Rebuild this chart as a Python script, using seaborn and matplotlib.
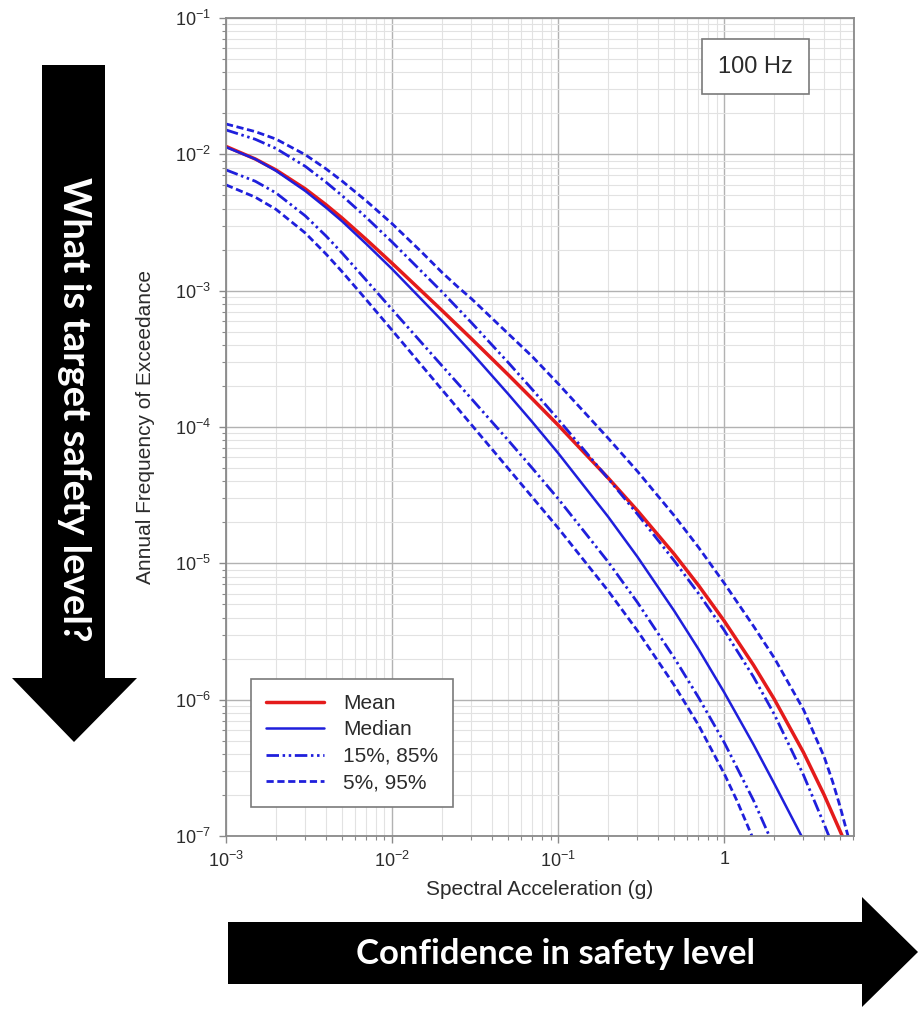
import numpy as np
import pandas as pd
import matplotlib
matplotlib.use("Agg")
import matplotlib.pyplot as plt
import seaborn as sns
from matplotlib.patches import Polygon
from matplotlib.ticker import FixedLocator, FixedFormatter, LogLocator, NullFormatter

# ---- hazard curves at 100 Hz: spectral acceleration (g) vs annual frequency of exceedance ----
mean_sa = [0.001, 0.0015, 0.002, 0.003, 0.004, 0.005, 0.007, 0.01, 0.02, 0.03, 0.05, 0.07, 0.1, 0.2,
           0.3, 0.5, 0.7, 1.0, 1.5, 2.0, 3.0, 4.0, 5.0, 5.14]
mean_afe = [1.143e-2, 9.25e-3, 7.68e-3, 5.58e-3, 4.27e-3, 3.41e-3, 2.37e-3, 1.589e-3, 7.15e-4, 4.45e-4,
            2.42e-4, 1.605e-4, 1.033e-4, 4.23e-5, 2.44e-5, 1.169e-5, 6.90e-6, 3.78e-6, 1.797e-6,
            1.011e-6, 4.11e-7, 2.00e-7, 1.08e-7, 1.0e-7]

median_sa = [0.001, 0.0015, 0.002, 0.003, 0.004, 0.005, 0.007, 0.01, 0.02, 0.03, 0.05, 0.07, 0.1, 0.2,
             0.3, 0.5, 0.7, 1.0, 1.5, 2.0, 2.92]
median_afe = [1.13e-2, 9.23e-3, 7.57e-3, 5.39e-3, 4.07e-3, 3.23e-3, 2.20e-3, 1.442e-3, 6.03e-4, 3.53e-4,
              1.748e-4, 1.085e-4, 6.44e-5, 2.197e-5, 1.118e-5, 4.48e-6, 2.35e-6, 1.132e-6, 4.70e-7,
              2.43e-7, 1.0e-7]

p15_sa = [0.001, 0.0015, 0.002, 0.003, 0.004, 0.005, 0.007, 0.01, 0.02, 0.03, 0.05, 0.07, 0.1, 0.2,
          0.3, 0.5, 0.7, 1.0, 1.5, 1.87]
p15_afe = [7.69e-3, 6.35e-3, 5.21e-3, 3.54e-3, 2.52e-3, 1.889e-3, 1.191e-3, 7.28e-4, 2.81e-4, 1.616e-4,
           8.0e-5, 4.98e-5, 2.98e-5, 1.026e-5, 5.18e-6, 2.03e-6, 1.04e-6, 4.86e-7, 1.83e-7, 1.0e-7]

p85_sa = [0.001, 0.0015, 0.002, 0.003, 0.004, 0.005, 0.007, 0.01, 0.02, 0.03, 0.05, 0.07, 0.1, 0.2,
          0.3, 0.5, 0.7, 1.0, 1.5, 2.0, 3.0, 4.0, 4.27]
p85_afe = [1.51e-2, 1.29e-2, 1.104e-2, 8.17e-3, 6.25e-3, 4.98e-3, 3.44e-3, 2.275e-3, 9.79e-4, 5.84e-4,
           2.975e-4, 1.88e-4, 1.14e-4, 4.19e-5, 2.30e-5, 1.045e-5, 6.02e-6, 3.23e-6, 1.472e-6,
           7.84e-7, 2.81e-7, 1.22e-7, 1.0e-7]

p05_sa = [0.001, 0.0015, 0.002, 0.003, 0.004, 0.005, 0.007, 0.01, 0.02, 0.03, 0.05, 0.07, 0.1, 0.2,
          0.3, 0.5, 0.7, 1.0, 1.2, 1.47]
p05_afe = [5.97e-3, 4.85e-3, 3.95e-3, 2.65e-3, 1.858e-3, 1.379e-3, 8.57e-4, 5.13e-4, 1.876e-4, 1.042e-4,
           4.97e-5, 3.05e-5, 1.818e-5, 6.29e-6, 3.21e-6, 1.279e-6, 6.52e-7, 2.87e-7, 1.79e-7, 1.0e-7]

p95_sa = [0.001, 0.0015, 0.002, 0.003, 0.004, 0.005, 0.007, 0.01, 0.015, 0.02, 0.025, 0.03, 0.05, 0.07,
          0.1, 0.2, 0.3, 0.5, 0.7, 1.0, 1.5, 2.0, 3.0, 4.0, 4.5, 5.0, 5.57]
p95_afe = [1.67e-2, 1.468e-2, 1.294e-2, 9.94e-3, 7.83e-3, 6.37e-3, 4.55e-3, 3.10e-3, 1.93e-3, 1.36e-3,
           1.06e-3, 8.75e-4, 4.84e-4, 3.28e-4, 2.08e-4, 8.28e-5, 4.74e-5, 2.24e-5, 1.312e-5, 7.16e-6,
           3.47e-6, 2.03e-6, 8.48e-7, 3.81e-7, 2.50e-7, 1.63e-7, 1.0e-7]

band_labels = ["Mean", "Median", "15%, 85%", "5%, 95%"]
x_tick_values = [1e-3, 1e-2, 1e-1, 1.0]
x_tick_labels = [r"$\mathregular{10^{-3}}$", r"$\mathregular{10^{-2}}$", r"$\mathregular{10^{-1}}$", "1"]
y_tick_values = [1e-7, 1e-6, 1e-5, 1e-4, 1e-3, 1e-2, 1e-1]
y_tick_labels = [r"$\mathregular{10^{-7}}$", r"$\mathregular{10^{-6}}$", r"$\mathregular{10^{-5}}$",
                 r"$\mathregular{10^{-4}}$", r"$\mathregular{10^{-3}}$", r"$\mathregular{10^{-2}}$",
                 r"$\mathregular{10^{-1}}$"]
frequency_label = "100 Hz"

curves = [
    ("mean", "Mean", mean_sa, mean_afe),
    ("median", "Median", median_sa, median_afe),
    ("p15", "15%, 85%", p15_sa, p15_afe),
    ("p85", "15%, 85%", p85_sa, p85_afe),
    ("p05", "5%, 95%", p05_sa, p05_afe),
    ("p95", "5%, 95%", p95_sa, p95_afe),
]
df = pd.concat(
    [pd.DataFrame({"curve": cid, "band": band, "sa": sa, "afe": afe}) for cid, band, sa, afe in curves],
    ignore_index=True,
)

# ---- styling ----
sns.set_theme(style="white")
plt.rcParams["font.family"] = ["Liberation Sans", "DejaVu Sans"]
plt.rcParams["mathtext.fontset"] = "custom"
plt.rcParams["mathtext.rm"] = "Liberation Sans"
plt.rcParams["mathtext.it"] = "Liberation Sans:italic"

RED = "#e41b1b"
BLUE = "#1f1fdc"
TEXT = "#2b2b2b"
palette = {"Mean": RED, "Median": BLUE, "15%, 85%": BLUE, "5%, 95%": BLUE}
dashes = {"Mean": "", "Median": "", "15%, 85%": (4.5, 1.3, 0.9, 1.3, 0.9, 1.3), "5%, 95%": (2.6, 1.3)}
widths = {"Mean": 2.5, "Median": 1.8, "15%, 85%": 2.0, "5%, 95%": 2.0}

W, H = 920, 1009
fig = plt.figure(figsize=(W / 100, H / 100), dpi=100)
ax = fig.add_axes([226 / W, 1 - 836 / H, (854 - 226) / W, (836 - 18) / H])

sns.lineplot(data=df, x="sa", y="afe", hue="band", style="band", size="band",
             units="curve", estimator=None, sort=False,
             hue_order=band_labels, style_order=band_labels, size_order=band_labels,
             palette=palette, dashes=dashes, sizes=widths, ax=ax)

ax.set_xscale("log")
ax.set_yscale("log")
ax.set_xlim(1e-3, 6.05)
ax.set_ylim(1e-7, 1e-1)

ax.xaxis.set_major_locator(FixedLocator(x_tick_values))
ax.xaxis.set_major_formatter(FixedFormatter(x_tick_labels))
ax.xaxis.set_minor_locator(LogLocator(base=10, subs=np.arange(2, 10), numticks=20))
ax.xaxis.set_minor_formatter(NullFormatter())
ax.yaxis.set_major_locator(FixedLocator(y_tick_values))
ax.yaxis.set_major_formatter(FixedFormatter(y_tick_labels))
ax.yaxis.set_minor_locator(LogLocator(base=10, subs=np.arange(2, 10), numticks=20))
ax.yaxis.set_minor_formatter(NullFormatter())

ax.grid(which="major", color="#b2b2b2", linewidth=1.0)
ax.grid(which="minor", color="#e2e2e2", linewidth=0.8)
ax.set_axisbelow(True)
for sp in ax.spines.values():
    sp.set_color("#8a8a8a")
    sp.set_linewidth(1.3)
ax.tick_params(which="major", direction="out", length=5, width=1.0, color="#8a8a8a",
               labelsize=13, labelcolor=TEXT, pad=6, left=True, bottom=True)
ax.tick_params(which="minor", direction="out", length=3, width=0.8, color="#8a8a8a",
               left=True, bottom=True)

ax.set_xlabel("Spectral Acceleration (g)", fontsize=15, color=TEXT, labelpad=6)
ax.set_ylabel("Annual Frequency of Exceedance", fontsize=15, color=TEXT, labelpad=14)

handles, labels = ax.get_legend_handles_labels()
keep = [(h, l) for h, l in zip(handles, labels) if l in band_labels]
leg = ax.legend([h for h, _ in keep], [l for _, l in keep], loc="lower left",
                bbox_to_anchor=(0.04, 0.035), borderaxespad=0, fontsize=15,
                handlelength=2.8, handletextpad=0.9, labelspacing=0.36,
                borderpad=0.72, fancybox=False, framealpha=1, edgecolor="#7a7a7a")
leg.get_frame().set_linewidth(1.2)
for t in leg.get_texts():
    t.set_color(TEXT)

ax.text(0.843, 0.9407, frequency_label, transform=ax.transAxes, ha="center", va="center",
        fontsize=17, color=TEXT,
        bbox=dict(boxstyle="square,pad=0.7", facecolor="white", edgecolor="#7a7a7a", linewidth=1.2))


# ---- annotation arrows around the chart (figure pixel positions, origin top-left) ----
def fig_xy(points):
    return [(x / W, 1 - y / H) for x, y in points]


down_arrow = [(42, 65), (105, 65), (105, 678), (137, 678), (74, 742), (12, 678), (42, 678)]
right_arrow = [(228, 922), (862, 922), (862, 897), (918, 952), (862, 1007), (862, 984), (228, 984)]
for pts in (down_arrow, right_arrow):
    fig.patches.append(Polygon(fig_xy(pts), closed=True, transform=fig.transFigure,
                               facecolor="black", edgecolor="black", linewidth=0))

fig.text(74 / W, 1 - 409 / H, "What is target safety level?", rotation=-90,
         ha="center", va="center", color="white", fontsize=27.5, fontweight="bold",
         family=["Lato", "DejaVu Sans"])
fig.text(555 / W, 1 - 954 / H, "Confidence in safety level",
         ha="center", va="center", color="white", fontsize=25, fontweight="bold",
         family=["Lato", "DejaVu Sans"])

fig.savefig("out.png", dpi=100, facecolor="white")
